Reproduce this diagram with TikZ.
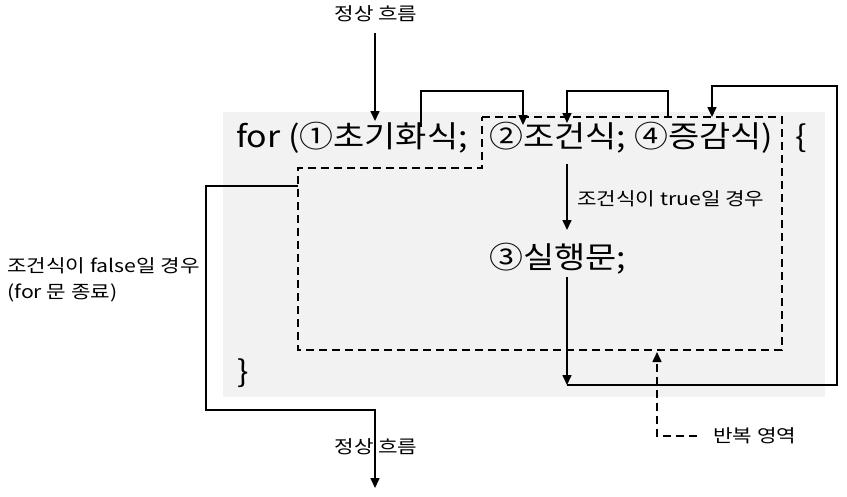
\documentclass[tikz,border=0pt]{standalone}
\usepackage{fontspec}
\setmainfont{Noto Sans CJK KR}
\usetikzlibrary{arrows.meta,positioning}

\begin{document}
\begin{tikzpicture}[x=1pt,y=-1pt,
  code/.style={font=\fontsize{30}{34}\selectfont\addfontfeature{FakeStretch=1.13}, inner sep=0pt, anchor=base west},
  note/.style={font=\fontsize{18}{26}\selectfont\addfontfeature{FakeStretch=1.18}, inner sep=0pt},
  flow/.style={line width=1.6pt,-{Triangle[length=10pt,width=9pt]}},
  area/.style={line width=1.6pt, dash pattern=on 8pt off 5pt}]
\useasboundingbox (0,0) rectangle (847,496);
% Code block background
\fill[black!5] (223,112) rectangle (825,397);

% Code text
\node[code] (init) at (236,147) {for (①초기화식;};
\node[code] (cond) at (489,147) {②조건식;};
\node[code] (incr) at (634,147) {④증감식)};
\node[code] (lbrace) at (795,147) {\{};
\node[code] (body) at (489,268) {③실행문;};
\node[code] (rbrace) at (237,382) {\}};

% Repeat region
\draw[area] (482,117) -- (782,117) -- (782,350) -- (298,350) -- (298,168) -- (482,168) -- cycle;

% Labels
\node[note] (intop) at (376,14) {정상 흐름};
\node[note] (outbot) at (376,447) {정상 흐름};
\node[note, anchor=west] (truelbl) at (577,199) {조건식이 true일 경우};
\node[note, anchor=west, align=left] (falselbl) at (7,280) {조건식이 false일 경우\\(for 문 종료)};
\node[note, anchor=west] (looplbl) at (713,436) {반복 영역};

% Connector points
\coordinate (inTip) at (375,121);
\coordinate (initTop) at (421,127);
\coordinate (condIn) at (523,125);
\coordinate (incrTop) at (668,117);
\coordinate (condIn2) at (567,123);
\coordinate (condOut) at (567,164);
\coordinate (bodyIn) at (567,230);
\coordinate (bodyOut) at (567,277);
\coordinate (bodyEnd) at (567,385);
\coordinate (incrIn) at (712,117);
\coordinate (exitStart) at (298,186);
\coordinate (outTip) at (375,488);
\coordinate (areaTip) at (657,352);
\coordinate (areaStart) at (697,436);

% Flow
\draw[flow] (375,33) -- (inTip);
\draw[flow] (initTop) |- (472,91) -| (condIn);
\draw[flow] (incrTop) |- (600,91) -| (condIn2);
\draw[flow] (condOut) -- (bodyIn);
\draw[flow] (bodyOut) -- (bodyEnd);
\draw[flow] (bodyEnd) -| (837,235) |- (760,86) -| (incrIn);
\draw[flow] (exitStart) -| (206,300) |- (300,410) -| (outTip);
\draw[area, -{Triangle[length=10pt,width=9pt]}] (areaStart) -| (areaTip);
\end{tikzpicture}
\end{document}
